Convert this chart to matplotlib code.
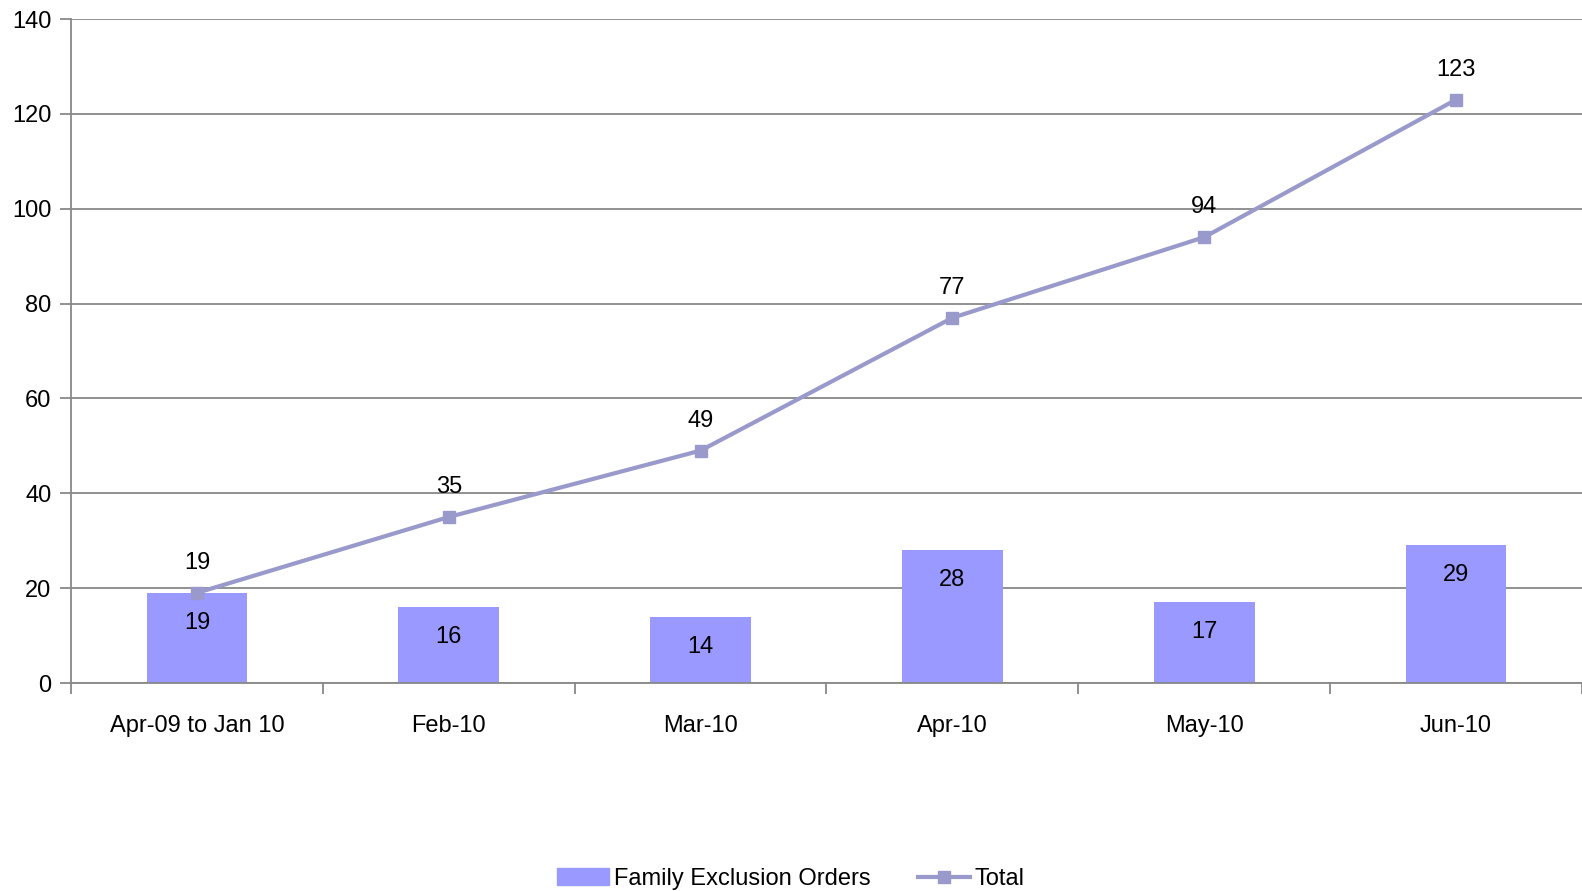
import matplotlib
matplotlib.use('Agg')
import numpy as np
from matplotlib import pyplot as plt
from matplotlib.lines import Line2D
from matplotlib.patches import Patch

# data
categories = ['Apr-09 to Jan 10', 'Feb-10', 'Mar-10', 'Apr-10', 'May-10', 'Jun-10']
orders = [19, 16, 14, 28, 17, 29]
total = [19, 35, 49, 77, 94, 123]

plt.rcParams['font.family'] = ['Liberation Sans Narrow', 'Liberation Sans', 'DejaVu Sans']

bar_col = '#9999FF'
line_col = '#9999CC'
grid_col = '#888888'

fig = plt.figure(figsize=(15.82, 8.91), dpi=100)
ax = fig.add_axes([71 / 1582, (891 - 683) / 891, 1 - 71 / 1582, (683 - 19) / 891])

x = np.arange(len(categories))
ax.bar(x, orders, width=0.4, color=bar_col, zorder=2)
ax.plot(x, total, color=line_col, lw=3, marker='s', markersize=8, zorder=3)

for xi, v in zip(x, orders):
    ax.annotate(str(v), (xi, v), xytext=(0, -30), textcoords='offset pixels',
                ha='center', va='center', fontsize=17, zorder=4)
for xi, v in zip(x, total):
    ax.annotate(str(v), (xi, v), xytext=(0, 30), textcoords='offset pixels',
                ha='center', va='center', fontsize=17, zorder=4)

ax.set_xlim(-0.5, len(categories) - 0.5)
ax.set_ylim(0, 140)
ax.set_yticks(range(0, 141, 20))
ax.yaxis.grid(True, color=grid_col, lw=1.3, zorder=1)
ax.set_axisbelow(True)

ax.set_xticks(x)
ax.set_xticklabels(categories, fontsize=17)
ax.set_xticks(np.arange(-0.5, len(categories), 1), minor=True)
ax.tick_params(axis='x', which='major', length=0, pad=23)
ax.tick_params(axis='x', which='minor', length=8, width=1.3, color=grid_col, direction='out')
ax.tick_params(axis='y', length=8, width=1.3, color=grid_col, labelsize=17, pad=6)

for s in ['top', 'right']:
    ax.spines[s].set_visible(False)
for s in ['left', 'bottom']:
    ax.spines[s].set_color(grid_col)
    ax.spines[s].set_linewidth(1.3)

handles = [Patch(color=bar_col, label='Family Exclusion Orders'),
           Line2D([], [], color=line_col, lw=3, marker='s', markersize=8, label='Total')]
fig.legend(handles=handles, loc='center', bbox_to_anchor=(0.5, (891 - 879) / 891),
           ncol=2, frameon=False, fontsize=17, handlelength=2.2, handletextpad=0.2,
           columnspacing=2.0)

fig.savefig('out.png', dpi=100)
